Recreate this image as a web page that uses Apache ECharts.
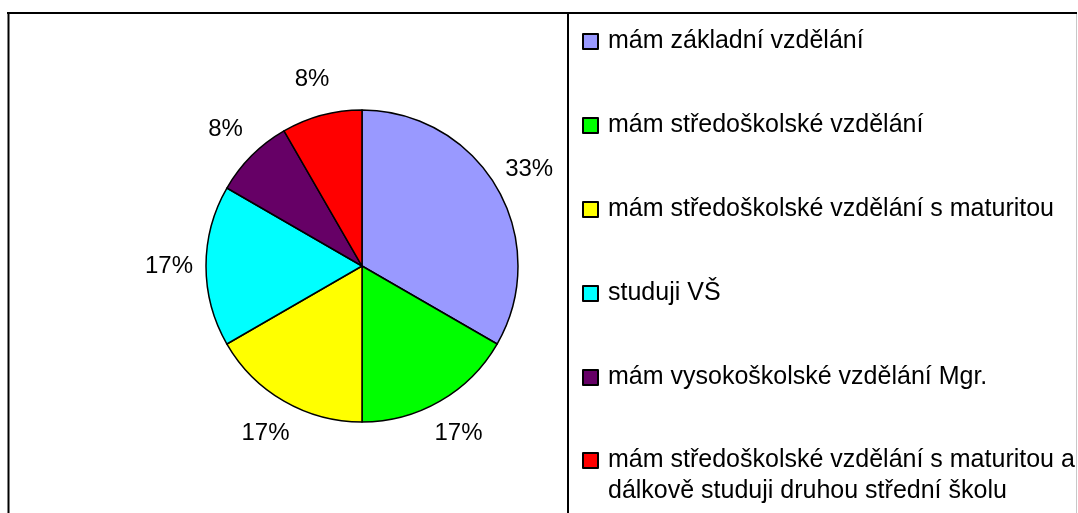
<!DOCTYPE html>
<html>
<head>
<meta charset="utf-8">
<script src="https://cdn.jsdelivr.net/npm/echarts@6/dist/echarts.min.js"></script>
<style>
  html, body { margin: 0; padding: 0; background: #ffffff; }
  #chart { width: 1078px; height: 513px; }
</style>
</head>
<body>
<div id="chart"></div>
<script>
// ---- Data ----
const categories = [
  'mám základní vzdělání',
  'mám středoškolské vzdělání',
  'mám středoškolské vzdělání s maturitou',
  'studuji VŠ',
  'mám vysokoškolské vzdělání Mgr.',
  'mám středoškolské vzdělání s maturitou a\ndálkově studuji druhou střední školu'
];
const values = [4, 2, 2, 2, 1, 1];
const colors = ['#9999FF', '#00FF00', '#FFFF00', '#00FFFF', '#660066', '#FF0000'];

// ---- Chart ----
const FONT = '"Liberation Sans", Arial, sans-serif';
const chart = echarts.init(document.getElementById('chart'), null, { renderer: 'canvas' });

const pieData = categories.map((name, i) => ({
  name: name,
  value: values[i],
  itemStyle: { color: colors[i] }
}));
const labelData = categories.map((name, i) => ({ name: name, value: values[i] }));

const legendText = {
  fontFamily: FONT,
  fontSize: 25,
  color: '#000000',
  lineHeight: 31,
  padding: [0, 0, 0, 5]
};

const option = {
  backgroundColor: '#ffffff',
  animation: false,
  legend: [
    {
      orient: 'vertical',
      left: 582,
      top: 26,
      padding: 0,
      itemWidth: 15,
      itemHeight: 15,
      itemGap: 53,
      icon: 'rect',
      selectedMode: false,
      data: categories.slice(0, 5),
      textStyle: legendText
    },
    {
      orient: 'vertical',
      left: 582,
      top: 414,
      padding: 0,
      itemWidth: 15,
      itemHeight: 15,
      icon: 'rect',
      selectedMode: false,
      data: categories.slice(5),
      formatter: function (name) { return '\n' + name; },
      textStyle: legendText
    }
  ],
  graphic: [
    { type: 'line', shape: { x1: 7, y1: 13, x2: 1077, y2: 13 }, style: { stroke: '#000000', lineWidth: 2 }, silent: true },
    { type: 'line', shape: { x1: 8.5, y1: 12, x2: 8.5, y2: 513 }, style: { stroke: '#000000', lineWidth: 2 }, silent: true },
    { type: 'line', shape: { x1: 568, y1: 12, x2: 568, y2: 513 }, style: { stroke: '#000000', lineWidth: 2 }, silent: true },
    { type: 'line', shape: { x1: 1076.5, y1: 14, x2: 1076.5, y2: 513 }, style: { stroke: '#c8c8c8', lineWidth: 1 }, silent: true }
  ],
  series: [
    {
      type: 'pie',
      center: [362, 266],
      radius: [0, 156],
      startAngle: 90,
      clockwise: true,
      avoidLabelOverlap: false,
      silent: true,
      label: { show: false },
      labelLine: { show: false },
      itemStyle: { borderColor: '#000000', borderWidth: 1.5 },
      emphasis: { disabled: true },
      data: pieData
    },
    {
      type: 'pie',
      center: [362, 266],
      radius: [156, 224],
      startAngle: 90,
      clockwise: true,
      avoidLabelOverlap: false,
      silent: true,
      legendHoverLink: false,
      itemStyle: { color: 'rgba(0,0,0,0)', borderWidth: 0 },
      labelLine: { show: false },
      emphasis: { disabled: true },
      label: {
        show: true,
        position: 'inside',
        fontFamily: FONT,
        fontSize: 24,
        color: '#000000',
        formatter: function (p) { return Math.round(p.percent) + '%'; }
      },
      data: labelData
    }
  ]
};
chart.setOption(option);
</script>
</body>
</html>
